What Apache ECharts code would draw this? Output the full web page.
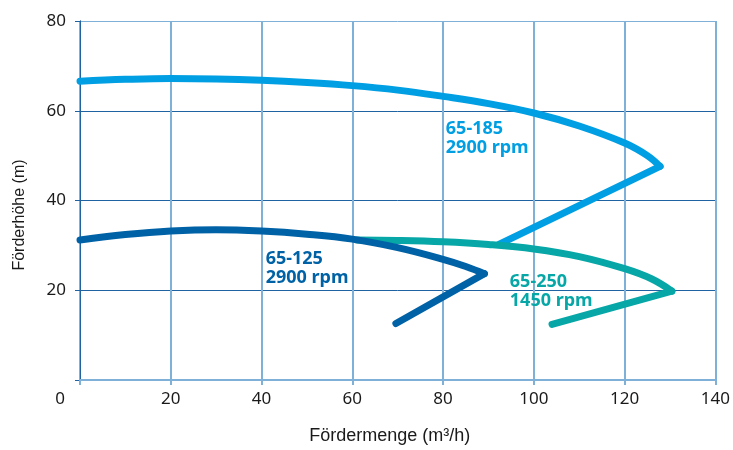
<!DOCTYPE html>
<html>
<head>
<meta charset="utf-8">
<script src="https://cdn.jsdelivr.net/npm/echarts@6/dist/echarts.min.js"></script>
<style>html,body{margin:0;padding:0;background:#fff}#c{width:733px;height:450px}</style>
</head>
<body>
<div id="c"></div>
<script>
// Data (x: Fördermenge m3/h, y: Förderhöhe m)
const xTicks = [0, 20, 40, 60, 80, 100, 120, 140];
const yTicks = [0, 20, 40, 60, 80];
const p185Upper = [[0,66.6],[10,67.0],[20,67.2],[30,67.1],[40,66.8],[50,66.3],[60,65.6],[70,64.6],[80,63.2],[90,61.6],[100,59.5],[110,56.6],[120,52.8],[125,50.0],[127.8,47.6]];
const p185Lower = [[127.8,47.6],[92.4,30.3]];
const p125Upper = [[0,31.2],[10,32.4],[20,33.2],[30,33.5],[40,33.2],[50,32.5],[60,31.4],[70,29.5],[80,26.9],[85,25.3],[89.1,23.7]];
const p125Lower = [[89.1,23.7],[69.6,12.6]];
const p250Upper = [[61,31.2],[70,31.1],[80,30.8],[90,30.2],[100,29.2],[110,27.5],[120,24.8],[126,22.5],[130.4,19.8]];
const p250Lower = [[130.4,19.8],[104,12.4]];
const labels = [
  {name:'65-185\n2900 rpm', value:[80.6,53.9], color:'#009fe3'},
  {name:'65-125\n2900 rpm', value:[40.9,24.8], color:'#0062a6'},
  {name:'65-250\n1450 rpm', value:[94.7,19.8], color:'#07a7a7'}
];

const C185 = '#009fe3', C125 = '#0062a6', C250 = '#07a7a7';
const light = '#7fb0d8', dark = '#2063a3';

function lineSeries(data, color, smooth, z) {
  return {
    type: 'line', data: data, smooth: smooth, symbol: 'none', z: z,
    lineStyle: {color: color, width: 7, cap: 'round', join: 'round'},
    silent: true
  };
}

const chart = echarts.init(document.getElementById('c'));
chart.setOption({
  animation: false,
  grid: {left: 80, right: 14, top: 21, bottom: 66, containLabel: false},
  xAxis: [{
    type: 'value', min: 0, max: 140, interval: 20,
    name: 'Fördermenge (m³/h)', nameLocation: 'middle', nameGap: 47,
    nameTextStyle: {fontFamily: 'Liberation Sans', fontSize: 18, color: '#1a1a1a', padding: [0, 16, 0, 0]},
    axisLine: {show: true, lineStyle: {color: light, width: 2}},
    axisTick: {show: true, length: 5, lineStyle: {color: light, width: 2}},
    axisLabel: {
      margin: 11, fontFamily: 'Noto Sans', fontSize: 17, color: '#1a1a1a',
      formatter: v => v === 0 ? '{z|0}' : String(v),
      rich: {z: {fontFamily: 'Noto Sans', fontSize: 17, color: '#1a1a1a', padding: [0, 40, 0, 0]}}
    },
    splitLine: {show: true, lineStyle: {color: light, width: 2}}
  }, {
    type: 'value', min: 0, max: 140, position: 'top',
    axisLine: {show: true, lineStyle: {color: light, width: 2}},
    axisTick: {show: false}, axisLabel: {show: false}, splitLine: {show: false}
  }],
  yAxis: [{
    type: 'value', min: 0, max: 80, interval: 20,
    name: 'Förderhöhe (m)', nameLocation: 'middle', nameGap: 52,
    nameTextStyle: {fontFamily: 'Liberation Sans', fontSize: 16, color: '#1a1a1a', padding: [0, 29, 0, 0]},
    axisLine: {show: true, lineStyle: {color: dark, width: 1}},
    axisTick: {show: true, length: 5, lineStyle: {color: dark, width: 1}},
    axisLabel: {
      margin: 14, fontFamily: 'Noto Sans', fontSize: 17, color: '#1a1a1a',
      formatter: v => v === 0 ? '' : String(v)
    },
    splitLine: {show: true, lineStyle: {color: [dark, dark, dark, dark, light], width: 1}}
  }, {
    type: 'value', min: 0, max: 80, position: 'right',
    axisLine: {show: true, lineStyle: {color: dark, width: 1}},
    axisTick: {show: false}, axisLabel: {show: false}, splitLine: {show: false}
  }],
  series: [
    lineSeries(p185Upper, C185, 0.4, 2),
    lineSeries(p185Lower, C185, false, 2),
    lineSeries(p250Upper, C250, 0.4, 3),
    lineSeries(p250Lower, C250, false, 3),
    lineSeries(p125Upper, C125, 0.4, 4),
    lineSeries(p125Lower, C125, false, 4),
    {
      type: 'scatter', symbolSize: 0, z: 5, silent: true,
      itemStyle: {opacity: 1},
      data: labels.map(l => ({name: l.name, value: l.value, label: {color: l.color, opacity: 1}})),
      label: {
        show: true, position: 'right', distance: 0, formatter: '{b}',
        fontFamily: 'Noto Sans', fontWeight: 'bold', fontSize: 18, lineHeight: 19,
        align: 'left', verticalAlign: 'middle', opacity: 1
      }
    }
  ]
});
</script>
</body>
</html>
